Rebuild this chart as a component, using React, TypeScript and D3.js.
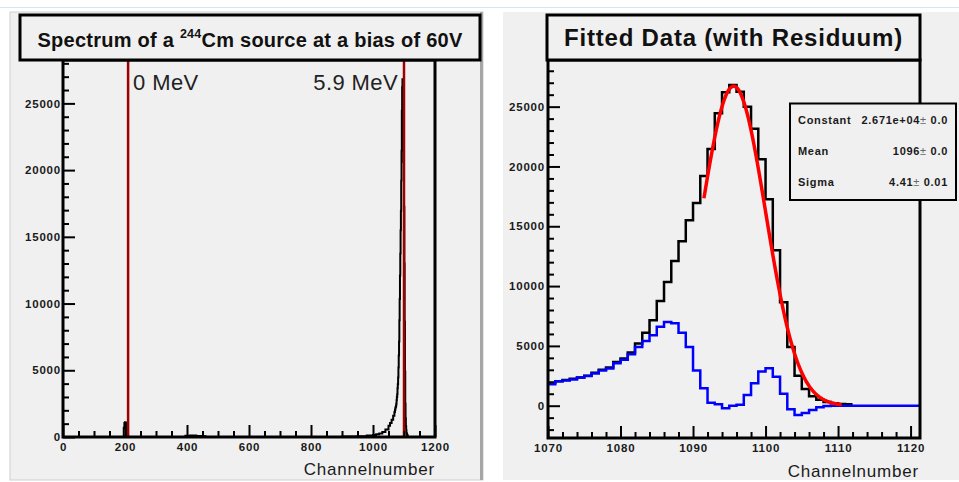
import React, { useEffect, useRef } from 'react';
import * as d3 from 'd3';

// black histogram around the alpha peak, one bin per channel from 1070 on
const peakFirstChannel = 1070;
const peakCounts = [
    1900, 2050, 2150, 2250, 2350, 2500, 2750, 3000, 3200, 3650,
    3950, 4450, 5200, 6100, 7150, 8750, 10350, 12100, 13750, 15500,
    16950, 19200, 21450, 24450, 26200, 26800, 26250, 25000, 23150, 20600,
    17250, 13000, 8650, 4900, 2500, 1400, 800, 500, 300, 200,
    150, 120, 0, 0, 0, 0, 0, 0, 0, 0, 0, 0
];
// blue residuum, same bins
const residualCounts = [
    1800, 2050, 2100, 2200, 2350, 2480, 2700, 2950, 3100, 3550,
    3850, 4300, 4900, 5400, 5900, 6600, 7000, 6900, 6100, 4900,
    2950, 1450, 250, 120, -220, 0, 80, 900, 1870, 2850,
    3130, 2430, 1000, -300, -780, -600, -360, -120, -30, 0,
    0, 0, 0, 0, 0, 0, 0, 0, 0, 0, 0, 0
];

// coarse rest of the full spectrum (left panel)
const lowChannels = [0, 190, 194, 196, 198, 200, 202, 204, 206, 390, 395, 410, 430, 450, 460,
    850, 900, 950, 980, 1000, 1010, 1020, 1030, 1040, 1050, 1055, 1060, 1065, 1069];
const lowCounts = [0, 0, 0, 700, 1050, 1100, 1050, 600, 0, 0, 90, 110, 80, 60, 0,
    0, 30, 60, 120, 150, 200, 260, 380, 560, 850, 1050, 1300, 1600, 1850];
const tailChannels = [1130, 1200];
const tailCounts = [0, 0];

// gaussian fit
const fitConstant = 26710;
const fitMean = 1095.6;
const fitSigma = 4.41;
const fitRange = [1091.5, 1110.5];

const markerChannels = [210, 1100];
const markerLabels = ['0 MeV', '5.9 MeV'];

const statNames = ['Constant', 'Mean', 'Sigma'];
const statValues = ['2.671e+04', '1096', '4.41'];
const statErrors = ['0.0', '0.0', '0.01'];

const leftXMajor = [0, 200, 400, 600, 800, 1000, 1200];
const leftYMajor = [0, 5000, 10000, 15000, 20000, 25000];
const rightXMajor = [1070, 1080, 1090, 1100, 1110, 1120];
const rightYMajor = [0, 5000, 10000, 15000, 20000, 25000];

const BG = '#f0f0f0';
const FONT = '"Liberation Sans", Arial, Helvetica, sans-serif';

const App = () => {
    const svgRef = useRef<SVGSVGElement>(null);

    useEffect(() => {
        if (!svgRef.current) return;
        const svg = d3.select(svgRef.current);
        svg.selectAll('*').remove();

        // page chrome
        svg.append('rect').attr('x', 0).attr('y', 7).attr('width', 959).attr('height', 1).attr('fill', '#d9e3ec');
        svg.append('rect').attr('x', 10).attr('y', 12).attr('width', 473).attr('height', 468)
            .attr('fill', BG).attr('stroke', '#cfcfcf').attr('stroke-width', 1);
        svg.append('rect').attr('x', 480).attr('y', 12).attr('width', 3).attr('height', 468).attr('fill', '#a6a6a6');
        svg.append('rect').attr('x', 503).attr('y', 12).attr('width', 456).attr('height', 468).attr('fill', BG);

        // ---------- helpers ----------
        const drawAxes = (g, x, y, frame, xMinor, yMinor, xMajor, yMajor, yPad) => {
            const styleAxis = sel => {
                sel.select('.domain').remove();
                sel.selectAll('line').attr('stroke', '#000').attr('stroke-width', 2);
                sel.selectAll('text').attr('font-family', FONT).attr('font-weight', 'bold')
                    .attr('font-size', 11.5).attr('letter-spacing', 0.8).attr('fill', '#1a1a1a');
            };
            g.append('g').attr('transform', `translate(0,${frame.y1})`)
                .call(d3.axisBottom(x).tickValues(xMinor).tickSize(-6).tickFormat(() => ''))
                .call(styleAxis);
            g.append('g').attr('transform', `translate(0,${frame.y1})`)
                .call(d3.axisBottom(x).tickValues(xMajor).tickSizeInner(-12).tickSizeOuter(0).tickPadding(6).tickFormat(d3.format('d')))
                .call(styleAxis);
            g.append('g').attr('transform', `translate(${frame.x0},0)`)
                .call(d3.axisLeft(y).tickValues(yMinor).tickSize(-6).tickFormat(() => ''))
                .call(styleAxis);
            g.append('g').attr('transform', `translate(${frame.x0},0)`)
                .call(d3.axisLeft(y).tickValues(yMajor).tickSizeInner(-12).tickSizeOuter(0).tickPadding(yPad).tickFormat(d3.format('d')))
                .call(styleAxis);
        };

        const drawFrame = (frame) => {
            svg.append('rect').attr('x', frame.x0).attr('y', frame.y0)
                .attr('width', frame.x1 - frame.x0).attr('height', frame.y1 - frame.y0)
                .attr('fill', 'none').attr('stroke', '#000').attr('stroke-width', 3);
        };

        const addClip = (id, frame) => {
            svg.append('clipPath').attr('id', id).append('rect')
                .attr('x', frame.x0).attr('y', frame.y0)
                .attr('width', frame.x1 - frame.x0).attr('height', frame.y1 - frame.y0);
        };

        const axisTitle = (frame, baseline) => {
            svg.append('text').attr('x', frame.x1).attr('y', baseline).attr('text-anchor', 'end')
                .attr('font-family', FONT).attr('font-size', 17).attr('letter-spacing', 0.8)
                .attr('fill', '#1a1a1a').text('Channelnumber');
        };

        // peak bins as [channel, count]
        const peakBins = peakCounts.map((c, i) => [peakFirstChannel + i, c]);
        const residualBins = residualCounts.map((c, i) => [peakFirstChannel + i, c]);

        // ---------- left panel ----------
        const fL = { x0: 63, x1: 435, y0: 60, y1: 437 };
        const xL = d3.scaleLinear().domain([0, 1200]).range([fL.x0, fL.x1]);
        const yL = d3.scaleLinear().domain([0, 28250]).range([fL.y1, fL.y0]);
        addClip('clipL', fL);

        const fullSpectrum = [
            ...lowChannels.map((c, i) => [c, lowCounts[i]]),
            ...peakBins,
            ...tailChannels.map((c, i) => [c, tailCounts[i]])
        ];
        svg.append('path').datum(fullSpectrum)
            .attr('clip-path', 'url(#clipL)')
            .attr('fill', 'none').attr('stroke', '#000').attr('stroke-width', 2)
            .attr('d', d3.line().x(d => xL(d[0])).y(d => yL(d[1])).curve(d3.curveStepAfter));

        markerChannels.forEach((ch, i) => {
            svg.append('line').attr('x1', xL(ch)).attr('x2', xL(ch)).attr('y1', fL.y0).attr('y2', fL.y1)
                .attr('stroke', '#9e0000').attr('stroke-width', 2.5);
            svg.append('text')
                .attr('x', i === 0 ? xL(ch) + 5 : xL(ch) - 6).attr('y', 90)
                .attr('text-anchor', i === 0 ? 'start' : 'end')
                .attr('font-family', FONT).attr('font-size', 22).attr('letter-spacing', 0.4)
                .attr('fill', '#222').text(markerLabels[i]);
        });

        drawFrame(fL);
        const gL = svg.append('g');
        drawAxes(gL, xL, yL, fL,
            d3.range(50, 1200, 50).filter(v => v % 200 !== 0),
            d3.range(1000, 28001, 1000).filter(v => v % 5000 !== 0),
            leftXMajor, leftYMajor, 2);
        axisTitle(fL, 475);

        // title box
        svg.append('rect').attr('x', 20).attr('y', 15).attr('width', 460).attr('height', 45)
            .attr('fill', BG).attr('stroke', '#000').attr('stroke-width', 3);
        const tL = svg.append('text').attr('x', 250).attr('y', 46.5).attr('text-anchor', 'middle')
            .attr('font-family', FONT).attr('font-weight', 'bold').attr('font-size', 20)
            .attr('letter-spacing', 0.25).attr('fill', '#111');
        tL.append('tspan').text('Spectrum of a ');
        tL.append('tspan').attr('font-size', 12.5).attr('dy', -9).text('244');
        tL.append('tspan').attr('dy', 9).text('Cm source at a bias of 60V');

        // ---------- right panel ----------
        const fR = { x0: 548, x1: 920, y0: 60, y1: 438 };
        const xR = d3.scaleLinear().domain([1070, 1121.3]).range([fR.x0, fR.x1]);
        const yR = d3.scaleLinear().domain([-2700, 28900]).range([fR.y1, fR.y0]);
        addClip('clipR', fR);

        const step = d3.line().x(d => xR(d[0])).y(d => yR(d[1])).curve(d3.curveStepAfter);
        const withEnd = bins => [...bins, [bins[bins.length - 1][0] + 1, bins[bins.length - 1][1]]];

        svg.append('path').datum(withEnd(peakBins.filter(d => d[0] <= 1111)))
            .attr('clip-path', 'url(#clipR)')
            .attr('fill', 'none').attr('stroke', '#000').attr('stroke-width', 2.5)
            .attr('d', step);
        svg.append('path').datum(withEnd(residualBins))
            .attr('clip-path', 'url(#clipR)')
            .attr('fill', 'none').attr('stroke', '#0000ff').attr('stroke-width', 2.5)
            .attr('d', step);

        const gauss = c => fitConstant * Math.exp(-((c - fitMean) ** 2) / (2 * fitSigma * fitSigma));
        svg.append('path').datum(d3.range(fitRange[0], fitRange[1] + 0.001, 0.1))
            .attr('clip-path', 'url(#clipR)')
            .attr('fill', 'none').attr('stroke', '#ff0000').attr('stroke-width', 3.5)
            .attr('d', d3.line().x(d => xR(d)).y(d => yR(gauss(d))));

        drawFrame(fR);
        const gR = svg.append('g');
        drawAxes(gR, xR, yR, fR,
            d3.range(1072, 1121, 2).filter(v => v % 10 !== 0),
            d3.range(-2000, 28001, 1000).filter(v => v % 5000 !== 0),
            rightXMajor, rightYMajor, 3);
        axisTitle({ ...fR, x1: 919 }, 477);

        svg.append('rect').attr('x', 547).attr('y', 15).attr('width', 373).attr('height', 45)
            .attr('fill', BG).attr('stroke', '#000').attr('stroke-width', 3);
        svg.append('text').attr('x', 733.5).attr('y', 46).attr('text-anchor', 'middle')
            .attr('font-family', FONT).attr('font-weight', 'bold').attr('font-size', 24)
            .attr('letter-spacing', 0.8).attr('fill', '#111').text('Fitted Data (with Residuum)');

        // stats box
        svg.append('rect').attr('x', 790).attr('y', 103.5).attr('width', 166).attr('height', 96.5)
            .attr('fill', BG).attr('stroke', '#000').attr('stroke-width', 2);
        statNames.forEach((name, i) => {
            const yy = 123.5 + i * 31.2;
            svg.append('text').attr('x', 798).attr('y', yy)
                .attr('font-family', FONT).attr('font-weight', 'bold').attr('font-size', 11)
                .attr('letter-spacing', 0.7).attr('fill', '#1a1a1a').text(name);
            const t = svg.append('text').attr('x', 948).attr('y', yy).attr('text-anchor', 'end')
                .attr('font-family', FONT).attr('font-weight', 'bold').attr('font-size', 11)
                .attr('letter-spacing', 0.7).attr('fill', '#1a1a1a');
            t.append('tspan').text(statValues[i]);
            t.append('tspan').attr('font-weight', 'normal').attr('fill', '#666').text('\u00b1');
            t.append('tspan').text(' ' + statErrors[i]);
        });
    }, []);

    return (
        <div style={{ position: 'absolute', left: 0, top: 0, background: '#fff' }}>
            <svg ref={svgRef} width={959} height={482} style={{ display: 'block' }} />
        </div>
    );
};

export default App;
